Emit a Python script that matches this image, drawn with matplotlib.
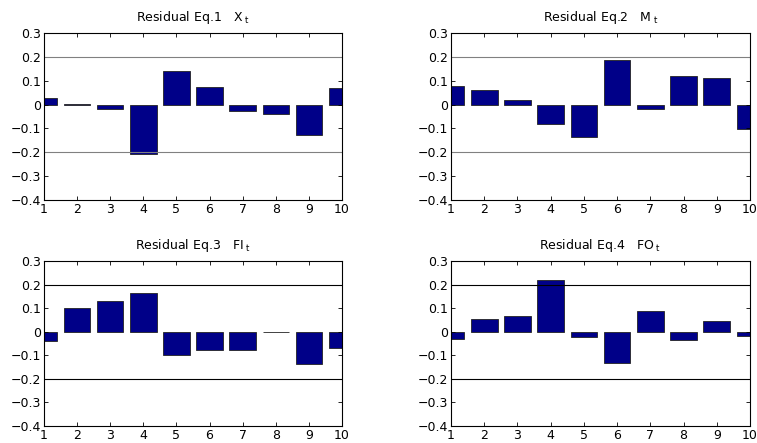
import numpy as np
import matplotlib.pyplot as plt

plt.rcParams['font.family'] = ['DejaVu Sans']
plt.rcParams['mathtext.fontset'] = 'dejavusans'

lags = np.arange(1, 11)
eq1_x = [0.027, 0.002, -0.020, -0.208, 0.141, 0.072, -0.025, -0.039, -0.127, 0.069]
eq2_m = [0.076, 0.059, 0.020, -0.083, -0.134, 0.185, -0.017, 0.118, 0.111, -0.104]
eq3_fi = [-0.041, 0.100, 0.131, 0.166, -0.097, -0.079, -0.079, -0.002, -0.139, -0.070]
eq4_fo = [-0.032, 0.052, 0.065, 0.221, -0.021, -0.134, 0.089, -0.037, 0.045, -0.017]
titles = [r'Residual Eq.1   X$_{\ \mathrm{t}}$', r'Residual Eq.2   M$_{\ \mathrm{t}}$',
          r'Residual Eq.3   FI$_{\ \mathrm{t}}$', r'Residual Eq.4   FO$_{\ \mathrm{t}}$']
series = [eq1_x, eq2_m, eq3_fi, eq4_fo]
yticks = [-0.4, -0.3, -0.2, -0.1, 0, 0.1, 0.2, 0.3]
ylabels = ['\u22120.4', '\u22120.3', '\u22120.2', '\u22120.1', '0', '0.1', '0.2', '0.3']
band_colors = ['#808080', '#808080', 'black', 'black']

fig = plt.figure(figsize=(7.57, 4.43), dpi=100)
# axes boxes in pixel units (left, top, right, bottom)
boxes = [(44, 33, 342, 200), (451, 33, 750, 200),
         (44, 261, 342, 426), (451, 261, 750, 426)]
W, H = 757, 443
for i in range(4):
    l, t, r, b = boxes[i]
    ax = fig.add_axes([l / W, 1 - b / H, (r - l) / W, (b - t) / H])
    ax.bar(lags, series[i], width=0.8, color='#000088', edgecolor='#222222', linewidth=0.6)
    ax.axhline(0.2, color=band_colors[i], lw=0.8)
    ax.axhline(-0.2, color=band_colors[i], lw=0.8)
    ax.set_xlim(1, 10)
    ax.set_ylim(-0.4, 0.3)
    ax.set_xticks(lags)
    ax.set_yticks(yticks)
    ax.set_yticklabels(ylabels)
    ax.tick_params(direction='in', top=True, right=True, labelsize=9, length=3, width=0.6, pad=2)
    for s in ax.spines.values():
        s.set_linewidth(0.8)
    ax.set_title(titles[i], fontsize=9, pad=9)

fig.savefig('out.png', dpi=100)
